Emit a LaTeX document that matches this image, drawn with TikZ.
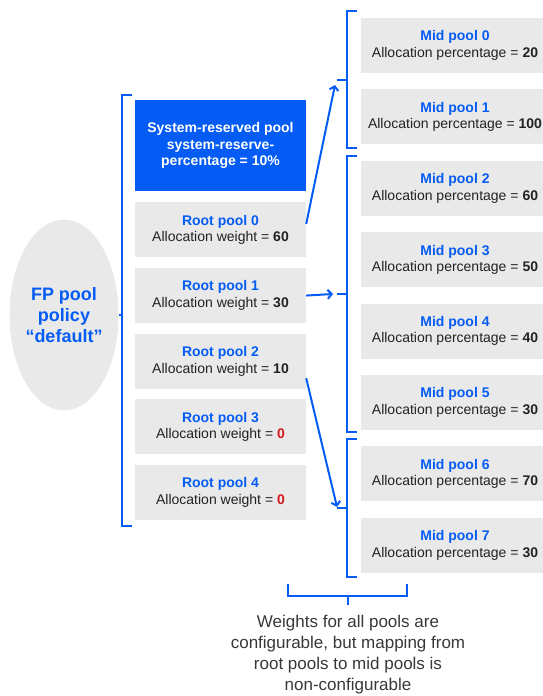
\documentclass[tikz,border=0pt]{standalone}
\usepackage{fontspec}
\setmainfont{Liberation Sans}
\usetikzlibrary{arrows.meta,calc,shapes.geometric,positioning}
\tikzset{>={Straight Barb[length=4pt,width=9pt]}}
\definecolor{poolblue}{RGB}{5,92,245}
\definecolor{poolgray}{RGB}{233,233,233}
\definecolor{poolred}{RGB}{215,25,30}
\definecolor{textgray}{RGB}{34,34,34}
\newcommand{\poolname}[1]{\textcolor{poolblue}{\textbf{#1}}}
\newcommand{\zeroweight}{\textcolor{poolred}{\textbf{0}}}
\tikzset{
  poolbox/.style={rectangle, fill=poolgray, minimum height=55pt, inner sep=0pt, align=center, text=textgray, font=\fontsize{14}{16.5}\selectfont},
  rootbox/.style={poolbox, minimum width=171pt},
  midbox/.style={poolbox, minimum width=188pt},
  bracket/.style={draw=poolblue, line width=2.4pt},
  maparrow/.style={->, draw=poolblue, line width=2pt},
}

\begin{document}
\begin{tikzpicture}[x=1pt,y=-1pt]
  \useasboundingbox (0,0) rectangle (542,696);
  \node (fp) at (64,315) [ellipse, fill=poolgray, minimum width=100pt, minimum height=191pt, inner sep=0pt, align=center, text=poolblue, font=\fontsize{18}{21}\selectfont\bfseries] {FP pool\\policy\\“default”};
  \node (sys) at (220.5,145.5) [rectangle, fill=poolblue, minimum width=171pt, minimum height=91pt, inner sep=0pt, align=center, text=white, font=\fontsize{14}{16.3}\selectfont\bfseries] {System-reserved pool\\system-reserve-\\percentage = 10\%};
  \node (r0) [rootbox, below=11pt of sys] {\poolname{Root pool 0}\\Allocation weight = \textbf{60}};
  \node (r1) [rootbox, below=10.25pt of r0] {\poolname{Root pool 1}\\Allocation weight = \textbf{30}};
  \node (r2) [rootbox, below=10.25pt of r1] {\poolname{Root pool 2}\\Allocation weight = \textbf{10}};
  \node (r3) [rootbox, below=10.25pt of r2] {\poolname{Root pool 3}\\Allocation weight = \zeroweight};
  \node (r4) [rootbox, below=10.25pt of r3] {\poolname{Root pool 4}\\Allocation weight = \zeroweight};

  \node (m0) at (455,45.5) [midbox] {\poolname{Mid pool 0}\\Allocation percentage = \textbf{20}};
  \node (m1) [midbox, below=16pt of m0] {\poolname{Mid pool 1}\\Allocation percentage = \textbf{100}};
  \node (m2) [midbox, below=16pt of m1] {\poolname{Mid pool 2}\\Allocation percentage = \textbf{60}};
  \node (m3) [midbox, below=16pt of m2] {\poolname{Mid pool 3}\\Allocation percentage = \textbf{50}};
  \node (m4) [midbox, below=16pt of m3] {\poolname{Mid pool 4}\\Allocation percentage = \textbf{40}};
  \node (m5) [midbox, below=16pt of m4] {\poolname{Mid pool 5}\\Allocation percentage = \textbf{30}};
  \node (m6) [midbox, below=16pt of m5] {\poolname{Mid pool 6}\\Allocation percentage = \textbf{70}};
  \node (m7) [midbox, below=16pt of m6] {\poolname{Mid pool 7}\\Allocation percentage = \textbf{30}};

  \coordinate (rootbr) at (122,315);
  \draw[bracket] (132,95) -- (122,95) -- (122,526) -- (132,526);
  \draw[bracket] (fp.east) -- (rootbr);

  \coordinate (midbr0) at (337,80);
  \coordinate (midbr1) at (337,294);
  \coordinate (midbr2) at (337,508);
  \draw[bracket] (357,11) -- (347,11) -- (347,148) -- (357,148);
  \draw[bracket] (357,156) -- (347,156) -- (347,432) -- (357,432);
  \draw[bracket] (357,439) -- (347,439) -- (347,577) -- (357,577);
  \draw[bracket] (midbr0) -- ++(10,0);
  \draw[bracket] (midbr1) -- ++(10,0);
  \draw[bracket] (midbr2) -- ++(10,0);

  \draw[maparrow] ($(r0.east)+(0,-6)$) -- ($(midbr0)+(-2,5)$);
  \draw[maparrow] (r1.east) -- ($(midbr1)+(-4,0)$);
  \draw[maparrow] ($(r2.east)+(0,17)$) -- ($(midbr2)+(0,-1)$);

  \coordinate (notebr) at (348,605);
  \draw[bracket] (288,584) -- (288,596) -- (407,596) -- (407,584);
  \draw[bracket] (348,596) -- (notebr);
  \node (note) [below=10pt of notebr, inner sep=0pt, align=center, text=textgray!90, font=\fontsize{17}{21}\selectfont] {Weights for all pools are\\configurable, but mapping from\\root pools to mid pools is\\non-configurable};
\end{tikzpicture}
\end{document}
